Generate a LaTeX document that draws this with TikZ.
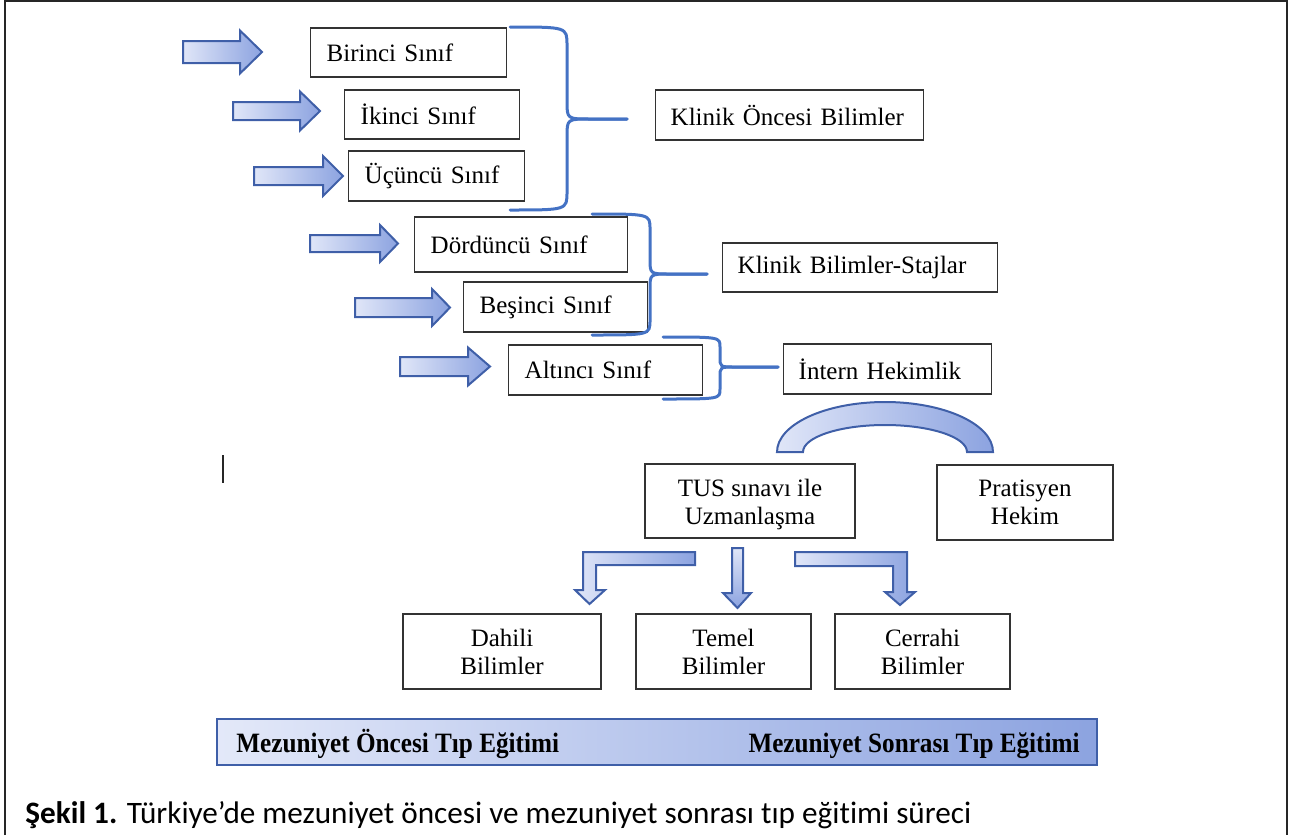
\documentclass[tikz,border=0pt]{standalone}
\usepackage{fontspec}
\setmainfont{Liberation Serif}
\newfontfamily\capfont[Ligatures=NoCommon]{Carlito}
\definecolor{lightb}{HTML}{E0E6F8}
\definecolor{darkb}{HTML}{8CA3E0}
\definecolor{edgeb}{HTML}{3F5FA8}
\definecolor{braceb}{HTML}{4472C4}
\definecolor{framec}{HTML}{262626}
\tikzset{
  box/.style={draw=black!80, line width=0.7pt, inner sep=0pt, font=\fontsize{12.5}{14}\selectfont},
  lbox/.style={box, anchor=west, align=left, inner xsep=8pt, inner ysep=0pt},
  cbox/.style={box, align=center},
  blk/.style={draw=edgeb, line width=1pt, left color=lightb, right color=darkb, line join=miter},
  vblk/.style={draw=edgeb, line width=1pt, top color=lightb, bottom color=darkb, line join=miter},
  brc/.style={draw=braceb, line width=1.5pt, line cap=round},
  barlabel/.style={inner sep=0pt, font=\bfseries\fontsize{14}{16}\selectfont},
}
% x0, xtip, xhead, ycentre, body half height, head half height
\newcommand\blockarrow[6]{%
  \path[blk] (#1,#4-#5) -- (#3,#4-#5) -- (#3,#4-#6) -- (#2,#4) -- (#3,#4+#6) -- (#3,#4+#5) -- (#1,#4+#5) -- cycle;}
% xend, ytop, ybottom, xspine, xtip, ytip, radius
\newcommand\curlybrace[7]{%
  \draw[brc] (#1,#2) .. controls (#4,#2) .. (#4,#2+#7) -- (#4,#6-#7) .. controls (#4,#6) .. (#4+#7+5,#6) -- (#5,#6);
  \draw[brc] (#5,#6) -- (#4+#7+5,#6) .. controls (#4,#6) .. (#4,#6+#7) -- (#4,#3-#7) .. controls (#4,#3) .. (#1,#3);}
\begin{document}
\begin{tikzpicture}[x=0.5pt,y=-0.5pt]
\path[use as bounding box] (0,0) rectangle (1294,835);
% frame
\draw[framec, line width=1pt] (5,835) -- (5,1) -- (1287,1) -- (1287,835);
% stray vertical mark
\draw[framec, line width=0.9pt] (223,455) -- (223,483);

% block arrows
\blockarrow{183}{262}{240}{52}{11}{21.5}
\blockarrow{233}{320}{300}{111}{9}{19.5}
\blockarrow{254}{343}{323}{176}{9}{20}
\blockarrow{310}{398}{380}{243.5}{8.5}{18.5}
\blockarrow{355}{450}{432}{307.5}{9.5}{18.5}
\blockarrow{400}{490}{468}{366.5}{9.5}{19}

% year boxes
\node[lbox, text width=82pt, minimum height=24.5pt] (b1) at (310,52.5) {Birinci Sınıf};
\node[lbox, text width=71.5pt, minimum height=24.5pt] (b2) at (344,114.5) {İkinci Sınıf};
\node[lbox, text width=72pt, minimum height=25pt] (b3) at (348,176) {Üçüncü Sınıf};
\node[lbox, text width=90.5pt, minimum height=27.5pt] (b4) at (414,244.5) {Dördüncü Sınıf};
\node[lbox, text width=76pt, minimum height=25pt] (b5) at (463,307) {Beşinci Sınıf};
\node[lbox, text width=81pt, minimum height=25pt] (b6) at (508,370) {Altıncı Sınıf};

% stage boxes
\node[lbox, inner xsep=7.5pt, text width=119pt, minimum height=25pt] (k1) at (655,115) {Klinik Öncesi Bilimler};
\node[lbox, inner xsep=7.5pt, text width=122.5pt, minimum height=24.5pt] (k2) at (722,267.5) {Klinik Bilimler-Stajlar};
\node[lbox, inner xsep=7.5pt, text width=89pt, minimum height=25pt] (k3) at (783,369) {İntern Hekimlik};

% braces
\curlybrace{510}{27}{210}{567}{627}{119}{18}
\curlybrace{592}{214}{335}{650}{707}{274}{15}
\curlybrace{663}{337}{399}{720}{778}{367}{10}

% curved band
\path[blk] (777,452) .. controls (777,424.4) and (825.4,402) .. (885,402)
  .. controls (944.6,402) and (993,424.4) .. (993,452) -- (967,452)
  .. controls (967,437.1) and (930.3,425) .. (885,425)
  .. controls (839.7,425) and (803,437.1) .. (803,452) -- cycle;

% after graduation
\node[cbox, minimum width=105pt, minimum height=37pt] (tus) at (750,501) {\rule{0pt}{12.5pt}TUS sınavı ile\\Uzmanlaşma};
\node[cbox, minimum width=88pt, minimum height=37.5pt] (pr) at (1025,502.5) {Pratisyen\\Hekim};

% bent / straight arrows
\path[blk] (695,552) -- (583,552) -- (583,590) -- (575,590) -- (589.5,604) -- (605,590) -- (596,590) -- (596,565) -- (695,565) -- cycle;
\path[vblk] (732,548) -- (743,548) -- (743,593) -- (751,593) -- (737.5,608) -- (723,593) -- (732,593) -- cycle;
\path[blk] (795,552) -- (907,552) -- (907,592) -- (915,592) -- (900,605) -- (885,592) -- (893,592) -- (893,566) -- (795,566) -- cycle;

\node[cbox, minimum width=99pt, minimum height=37.5pt] (dah) at (502,651.5) {Dahili\\Bilimler};
\node[cbox, minimum width=87.5pt, minimum height=37.5pt] (tem) at (723.5,651.5) {Temel\\Bilimler};
\node[cbox, minimum width=87.5pt, minimum height=37.5pt] (cer) at (922.5,651.5) {Cerrahi\\Bilimler};

% bottom bar
\node[draw=edgeb, line width=1pt, left color=lightb!90!white, right color=darkb, minimum width=440pt, minimum height=23pt, inner sep=0pt] (bar) at (657,742) {};
\node[barlabel, anchor=base west] (bl) at (236,752) {\scalebox{0.9}[1]{Mezuniyet Öncesi Tıp Eğitimi}};
\node[barlabel, anchor=base east] (br) at (1080,752) {\scalebox{0.9}[1]{Mezuniyet Sonrası Tıp Eğitimi}};

% caption
\node[anchor=base west, inner sep=0pt, font=\capfont\fontsize{15.6}{18}\selectfont] (cap) at (25,823) {\textbf{Şekil 1.} Türkiye’de mezuniyet öncesi ve mezuniyet sonrası tıp eğitimi süreci};
\end{tikzpicture}
\end{document}
